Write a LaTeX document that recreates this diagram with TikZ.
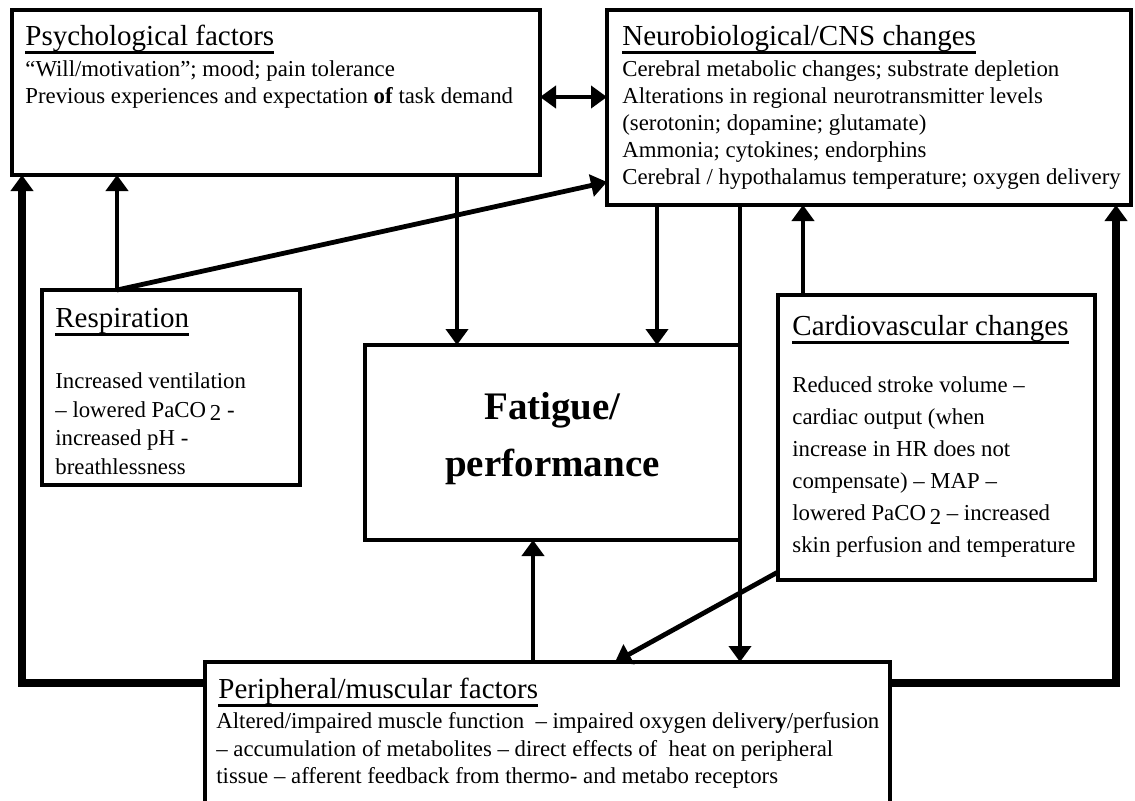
\documentclass[tikz,border=0pt]{standalone}
\usepackage{fontspec}
\setmainfont{Liberation Serif}
\usetikzlibrary{arrows.meta}
\newcommand{\myul}[1]{\setbox0\hbox{#1}\leavevmode\rlap{\rule[-4.3pt]{\wd0}{1.3pt}}\box0}
\begin{document}
\begin{tikzpicture}[x=0.5pt,y=-0.5pt,
  box/.style={draw, line width=2.4pt, inner sep=0pt, outer sep=0pt, anchor=north west, fill=white},
  ttl/.style={anchor=base west, inner sep=0pt, font=\fontsize{14.5}{17}\selectfont},
  body/.style={anchor=north west, inner sep=0pt, align=left, font=\fontsize{11.4}{13.5}\selectfont},
  tip/.style={-{Triangle[length=8pt,width=11pt]}},
  arr/.style={line width=2.4pt, tip},
  darr/.style={line width=2.4pt, {Triangle[length=8pt,width=11pt]}-{Triangle[length=8pt,width=11pt]}},
  lp/.style={line width=3.6pt, tip}
]
\useasboundingbox (0,0) rectangle (1135,800);

% boxes
\node[box, minimum width=264pt, minimum height=82.5pt] (psych) at (12,10) {};
\node[box, minimum width=262pt, minimum height=97.5pt] (neuro) at (607,10) {};
\node[box, minimum width=129pt, minimum height=97.5pt] (resp) at (42,290) {};
\node[box, minimum width=187.5pt, minimum height=97.5pt] (fat) at (365,345) {};
\node[box, minimum width=158.5pt, minimum height=142.5pt] (cardio) at (778,295) {};
\node[box, minimum width=342.5pt, minimum height=80pt] (perip) at (205,662) {};

% texts
\node[ttl] (psychT) at (25,45) {\myul{Psychological factors}};
\node[body] (psychB) at (25,60) {``Will/motivation''; mood; pain tolerance\\
Previous experiences and expectation \textbf{of} task demand};

\node[ttl] (neuroT) at (622,45) {\myul{Neurobiological/CNS changes}};
\node[body] (neuroB) at (622,60) {Cerebral metabolic changes; substrate depletion\\
Alterations in regional neurotransmitter levels\\
(serotonin; dopamine; glutamate)\\
Ammonia; cytokines; endorphins\\
Cerebral / hypothalamus temperature; oxygen delivery};

\node[ttl] (respT) at (55,327) {\myul{Respiration}};
\node[body, font=\fontsize{11.4}{14.4}\selectfont] (respB) at (55,372) {Increased ventilation\\
-- lowered PaCO\,\raisebox{-0.35ex}{2} -\\
increased pH -\\
breathlessness};

\node[ttl] (cardioT) at (792,335) {\myul{Cardiovascular changes}};
\node[body, font=\fontsize{11.4}{16}\selectfont] (cardioB) at (792,376) {Reduced stroke volume --\\
cardiac output (when\\
increase in HR does not\\
compensate) -- MAP --\\
lowered PaCO\,\raisebox{-0.45ex}{2} -- increased\\
skin perfusion and temperature};

\node[ttl] (peripT) at (218,698) {\myul{Peripheral/muscular factors}};
\node[body, font=\fontsize{11.4}{13.8}\selectfont] (peripB) at (216,712) {Altered/impaired muscle function\ \ -- impaired oxygen deliver\textbf{y}/perfusion\\
-- accumulation of metabolites -- direct effects of\ \ heat on peripheral\\
tissue -- afferent feedback from thermo- and metabo receptors};

\node[inner sep=0pt, align=center, font=\fontsize{19.5}{28.5}\selectfont\bfseries] (fatT) at ([yshift=2pt]fat.center) {Fatigue/\\performance};

% helper coordinates
\coordinate (xa) at (22,0);
\coordinate (xb) at (117,0);
\coordinate (xc) at (457,0);
\coordinate (xd) at (657,0);
\coordinate (xf) at (803,0);
\coordinate (xg) at (533,0);
\coordinate (xh) at (1116,0);
\coordinate (xi) at (615,0);
\coordinate (yl) at (0,683);
\coordinate (yd) at (0,97);
\coordinate (yn) at (0,182);
\coordinate (yc) at (0,572);

% connectors
\draw[darr] (psych.east |- yd) -- (neuro.west |- yd);
\draw[arr] (xb |- resp.north) -- (xb |- psych.south);
\draw[arr] (xb |- resp.north) -- (neuro.west |- yn);
\draw[arr] (xc |- psych.south) -- (xc |- fat.north);
\draw[arr] (xd |- neuro.south) -- (xd |- fat.north);
\draw[arr] (fat.east |- neuro.south) -- (fat.east |- perip.north);
\draw[arr] (xf |- cardio.north) -- (xf |- neuro.south);
\draw[arr] (cardio.west |- yc) -- (xi |- perip.north);
\draw[arr] (xg |- perip.north) -- (xg |- fat.south);
\draw[lp] (perip.west |- yl) -| (xa |- psych.south);
\draw[lp] (perip.east |- yl) -| (xh |- neuro.south);
\end{tikzpicture}
\end{document}
